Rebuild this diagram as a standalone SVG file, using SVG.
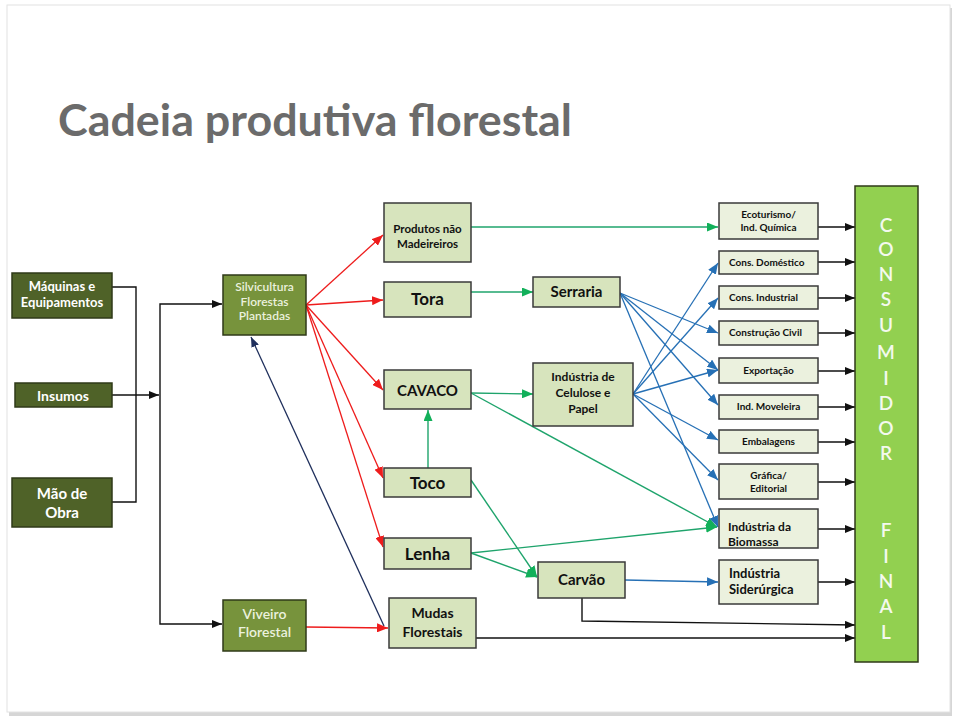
<svg xmlns="http://www.w3.org/2000/svg" width="960" height="720" viewBox="0 0 960 720">
<defs>
<style>
.t{font-family:Lato,"Liberation Sans",sans-serif;}
.dk rect{fill:#4f6228;stroke:#2f3a18;stroke-width:1.5}
.md rect{fill:#77933c;stroke:#2f3a18;stroke-width:1.5}
.lt rect{fill:#d7e4bd;stroke:#3a3a3a;stroke-width:1.5}
.rt rect{fill:#ebf1de;stroke:#3a3a3a;stroke-width:1.5}
.w{fill:#ffffff;font-weight:700}
.pw{fill:#ebf1de;font-weight:600}
.b{fill:#111111;font-weight:700}
.c{text-anchor:middle}
.k{fill:none;stroke:#111;stroke-width:1.4}
.r{fill:none;stroke:#ee1c1c;stroke-width:1.3}
.g{fill:none;stroke:#1fa46c;stroke-width:1.4}
.bl{fill:none;stroke:#2670b5;stroke-width:1.3}
.nv{fill:none;stroke:#1f2f5c;stroke-width:1.3}
</style>
<marker id="ak" markerUnits="userSpaceOnUse" markerWidth="10" markerHeight="8" refX="10" refY="4" orient="auto"><path d="M0,0 L10,4 L0,8 z" fill="#111"/></marker>
<marker id="ar" markerUnits="userSpaceOnUse" markerWidth="11" markerHeight="9" refX="11" refY="4.5" orient="auto"><path d="M0,0 L11,4.5 L0,9 z" fill="#ee1c1c"/></marker>
<marker id="ag" markerUnits="userSpaceOnUse" markerWidth="11" markerHeight="9" refX="11" refY="4.5" orient="auto"><path d="M0,0 L11,4.5 L0,9 z" fill="#12b05a"/></marker>
<marker id="ab" markerUnits="userSpaceOnUse" markerWidth="11" markerHeight="9" refX="11" refY="4.5" orient="auto"><path d="M0,0 L11,4.5 L0,9 z" fill="#2670b5"/></marker>
<marker id="an" markerUnits="userSpaceOnUse" markerWidth="10" markerHeight="8" refX="10" refY="4" orient="auto"><path d="M0,0 L10,4 L0,8 z" fill="#1f2f5c"/></marker>
</defs>
<rect x="0" y="0" width="960" height="720" fill="#ffffff"/>
<rect x="9" y="8" width="943" height="708" fill="#d6d6d6"/>
<rect x="7" y="5" width="943" height="707" fill="#ffffff" stroke="#e2e2e2" stroke-width="1"/>
<text class="t" x="58" y="136" font-size="44" font-weight="700" fill="#6b6b6b" textLength="514" lengthAdjust="spacingAndGlyphs">Cadeia produtiva florestal</text>

<g id="connectors">
<path class="k" d="M112,287 H136 V502 H112"/>
<path class="k" d="M112,395 H159" marker-end="url(#ak)"/>
<path class="k" d="M160,395 V304 H222" marker-end="url(#ak)"/>
<path class="k" d="M160,395 V624 H222" marker-end="url(#ak)"/>
<path class="nv" d="M384,626 L251,337" marker-end="url(#an)"/>
<path class="r" d="M306,305 L383,235" marker-end="url(#ar)"/>
<path class="r" d="M306,305 L383,300" marker-end="url(#ar)"/>
<path class="r" d="M306,305 L383,390" marker-end="url(#ar)"/>
<path class="r" d="M306,305 L383,478" marker-end="url(#ar)"/>
<path class="r" d="M306,305 L383,547" marker-end="url(#ar)"/>
<path class="r" d="M306,627 L388,628" marker-end="url(#ar)"/>
<path class="g" d="M471,227 H718" marker-end="url(#ag)"/>
<path class="g" d="M471,292 H533" marker-end="url(#ag)"/>
<path class="g" d="M471,393 L533,394" marker-end="url(#ag)"/>
<path class="g" d="M471,393 L717,527" marker-end="url(#ag)"/>
<path class="g" d="M428,468 V410" marker-end="url(#ag)"/>
<path class="g" d="M471,480 L537,577" marker-end="url(#ag)"/>
<path class="g" d="M471,553 L717,527" marker-end="url(#ag)"/>
<path class="g" d="M471,553 L537,577" marker-end="url(#ag)"/>
<path class="bl" d="M620,293 L718,333" marker-end="url(#ab)"/>
<path class="bl" d="M620,293 L718,370" marker-end="url(#ab)"/>
<path class="bl" d="M620,293 L718,405" marker-end="url(#ab)"/>
<path class="bl" d="M620,293 L718,527" marker-end="url(#ab)"/>
<path class="bl" d="M633,394 L718,263" marker-end="url(#ab)"/>
<path class="bl" d="M633,394 L718,298" marker-end="url(#ab)"/>
<path class="bl" d="M633,394 L718,370" marker-end="url(#ab)"/>
<path class="bl" d="M633,394 L718,440" marker-end="url(#ab)"/>
<path class="bl" d="M633,394 L718,480" marker-end="url(#ab)"/>
<path class="bl" d="M625,580 L718,582" marker-end="url(#ab)"/>
<path class="k" d="M818,227 H855" marker-end="url(#ak)"/>
<path class="k" d="M818,262 H855" marker-end="url(#ak)"/>
<path class="k" d="M818,298 H855" marker-end="url(#ak)"/>
<path class="k" d="M818,333 H855" marker-end="url(#ak)"/>
<path class="k" d="M818,371 H855" marker-end="url(#ak)"/>
<path class="k" d="M818,407 H855" marker-end="url(#ak)"/>
<path class="k" d="M818,442 H855" marker-end="url(#ak)"/>
<path class="k" d="M818,482 H855" marker-end="url(#ak)"/>
<path class="k" d="M818,529 H855" marker-end="url(#ak)"/>
<path class="k" d="M818,582 H855" marker-end="url(#ak)"/>
<path class="k" d="M582,598 V621 L855,625" marker-end="url(#ak)"/>
<path class="k" d="M476,638 H855" marker-end="url(#ak)" stroke="#444" stroke-width="1.8"/>
</g>

<g id="maquinas" class="dk"><rect x="12" y="273" width="100" height="45"/>
<text class="t w c" x="62" y="291" font-size="13">Máquinas e</text><text class="t w c" x="62" y="307" font-size="13">Equipamentos</text></g>
<g id="insumos" class="dk"><rect x="15" y="383" width="97" height="24"/>
<text class="t w c" x="63" y="401" font-size="14">Insumos</text></g>
<g id="maodeobra" class="dk"><rect x="12" y="478" width="100" height="49"/>
<text class="t w c" x="62" y="499" font-size="15">Mão de</text><text class="t w c" x="62" y="518" font-size="15">Obra</text></g>

<g id="silvicultura" class="md"><rect x="223" y="275" width="83" height="60"/>
<text class="t pw c" x="264.5" y="291" font-size="12">Silvicultura</text><text class="t pw c" x="264.5" y="306" font-size="12">Florestas</text><text class="t pw c" x="264.5" y="320" font-size="12">Plantadas</text></g>
<g id="viveiro" class="md"><rect x="223" y="600" width="83" height="51"/>
<text class="t pw c" x="264.5" y="619" font-size="14">Viveiro</text><text class="t pw c" x="264.5" y="637" font-size="14">Florestal</text></g>

<g id="produtos" class="lt"><rect x="384" y="203" width="87" height="59"/>
<text class="t b c" x="427.5" y="233" font-size="11.5" font-weight="600">Produtos não</text><text class="t b c" x="427.5" y="248" font-size="11.5" font-weight="600">Madeireiros</text></g>
<g id="tora" class="lt"><rect x="384" y="282" width="87" height="35"/>
<text class="t b c" x="427.5" y="305" font-size="17">Tora</text></g>
<g id="cavaco" class="lt"><rect x="384" y="370" width="87" height="39"/>
<text class="t b c" x="427.5" y="396" font-size="15" font-weight="400">CAVACO</text></g>
<g id="toco" class="lt"><rect x="384" y="468" width="87" height="29"/>
<text class="t b c" x="427.5" y="489" font-size="17">Toco</text></g>
<g id="lenha" class="lt"><rect x="384" y="538" width="87" height="31"/>
<text class="t b c" x="427.5" y="560" font-size="17" font-weight="600">Lenha</text></g>
<g id="mudas" class="lt"><rect x="389" y="598" width="87" height="50"/>
<text class="t b c" x="432.5" y="618" font-size="14" font-weight="600">Mudas</text><text class="t b c" x="432.5" y="637" font-size="14" font-weight="600">Florestais</text></g>

<g id="serraria" class="lt"><rect x="533" y="277" width="87" height="30"/>
<text class="t b c" x="576.5" y="297" font-size="15">Serraria</text></g>
<g id="celulose" class="lt"><rect x="533" y="363" width="100" height="63"/>
<text class="t b c" x="583" y="381" font-size="12" font-weight="600">Indústria de</text><text class="t b c" x="583" y="397" font-size="12" font-weight="600">Celulose e</text><text class="t b c" x="583" y="413" font-size="12" font-weight="600">Papel</text></g>
<g id="carvao" class="lt"><rect x="538" y="562" width="87" height="36"/>
<text class="t b c" x="581.5" y="585" font-size="15">Carvão</text></g>

<g id="ecoturismo" class="rt"><rect x="719" y="203" width="99" height="36"/>
<text class="t b c" x="768.5" y="218" font-size="10" font-weight="600">Ecoturismo/</text><text class="t b c" x="768.5" y="231" font-size="10" font-weight="600">Ind. Química</text></g>
<g id="domestico" class="rt"><rect x="719" y="251" width="99" height="23"/>
<text class="t b" x="729" y="266" font-size="10" font-weight="600">Cons. Doméstico</text></g>
<g id="industrial" class="rt"><rect x="719" y="286" width="99" height="23"/>
<text class="t b" x="729" y="301" font-size="10" font-weight="600">Cons. Industrial</text></g>
<g id="construcao" class="rt"><rect x="719" y="321" width="99" height="24"/>
<text class="t b" x="729" y="336" font-size="10" font-weight="600">Construção Civil</text></g>
<g id="exportacao" class="rt"><rect x="719" y="358" width="99" height="25"/>
<text class="t b c" x="768.5" y="374" font-size="10" font-weight="600">Exportação</text></g>
<g id="moveleira" class="rt"><rect x="719" y="395" width="99" height="24"/>
<text class="t b c" x="768.5" y="410" font-size="10" font-weight="600">Ind. Moveleira</text></g>
<g id="embalagens" class="rt"><rect x="719" y="430" width="99" height="23"/>
<text class="t b c" x="768.5" y="445" font-size="10" font-weight="600">Embalagens</text></g>
<g id="grafica" class="rt"><rect x="719" y="464" width="99" height="35"/>
<text class="t b c" x="768.5" y="479" font-size="10" font-weight="600">Gráfica/</text><text class="t b c" x="768.5" y="492" font-size="10" font-weight="600">Editorial</text></g>
<g id="biomassa" class="rt"><rect x="719" y="509" width="99" height="39"/>
<text class="t b" x="728" y="531" font-size="12" font-weight="600">Indústria da</text><text class="t b" x="728" y="546" font-size="12" font-weight="600">Biomassa</text></g>
<g id="siderurgica" class="rt"><rect x="719" y="560" width="99" height="44"/>
<text class="t b" x="729" y="578" font-size="13" font-weight="600">Indústria</text><text class="t b" x="729" y="594" font-size="13" font-weight="600">Siderúrgica</text></g>

<g id="consumidor"><rect x="855" y="186" width="63" height="476" fill="#92d050" stroke="#2f3a18" stroke-width="1.5"/>
<g class="t c" font-size="19" fill="#f4f9ee" font-weight="600">
<text x="886" y="232">C</text><text x="886" y="256">O</text><text x="886" y="281">N</text><text x="886" y="306">S</text><text x="886" y="332">U</text><text x="886" y="359">M</text><text x="886" y="385">I</text><text x="886" y="410">D</text><text x="886" y="435">O</text><text x="886" y="460">R</text>
<text x="886" y="537">F</text><text x="886" y="563">I</text><text x="886" y="588">N</text><text x="886" y="613">A</text><text x="886" y="639">L</text>
</g></g>
</svg>
